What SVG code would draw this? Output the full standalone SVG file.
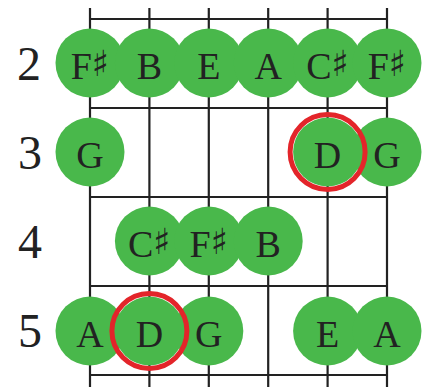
<svg xmlns="http://www.w3.org/2000/svg" width="427" height="387" viewBox="0 0 427 387">
<style>
.grid line{stroke:#222;stroke-width:2.2}
.n{fill:#49b84b}
.hl{fill:none;stroke:#e3252a;stroke-width:5}
.t{font-family:"Liberation Serif","DejaVu Serif",serif;font-size:38px;fill:#222;text-anchor:middle}
.lab{font-family:"Liberation Serif","DejaVu Serif",serif;font-size:48px;fill:#222;text-anchor:middle}
.sh{font-family:"DejaVu Serif",serif;font-size:36px}
</style>
<rect width="427" height="387" fill="#fff"/>
<g id="grid" class="grid">
<line x1="90" y1="8" x2="90" y2="387"/>
<line x1="149.4" y1="8" x2="149.4" y2="387"/>
<line x1="208.8" y1="8" x2="208.8" y2="387"/>
<line x1="268.2" y1="8" x2="268.2" y2="387"/>
<line x1="327.6" y1="8" x2="327.6" y2="387"/>
<line x1="387" y1="8" x2="387" y2="387"/>
<line x1="89" y1="19" x2="388" y2="19"/>
<line x1="89" y1="108" x2="388" y2="108"/>
<line x1="89" y1="197" x2="388" y2="197"/>
<line x1="89" y1="286" x2="388" y2="286"/>
<line x1="89" y1="375" x2="388" y2="375"/>
</g>
<g id="labels">
<text class="lab" x="29" y="80">2</text>
<text class="lab" x="30" y="169">3</text>
<text class="lab" x="30" y="258">4</text>
<text class="lab" x="30" y="347">5</text>
</g>
<g id="row2">
<g id="n2-1"><circle class="n" cx="90" cy="63" r="34.5"/><text class="t" x="90" y="79">F<tspan class="sh" dy="-3">♯</tspan></text></g>
<g id="n2-2"><circle class="n" cx="149.4" cy="63" r="34.5"/><text class="t" x="149.4" y="79">B</text></g>
<g id="n2-3"><circle class="n" cx="208.8" cy="63" r="34.5"/><text class="t" x="208.8" y="79">E</text></g>
<g id="n2-4"><circle class="n" cx="268.2" cy="63" r="34.5"/><text class="t" x="268.2" y="79">A</text></g>
<g id="n2-5"><circle class="n" cx="327.6" cy="63" r="34.5"/><text class="t" x="327.6" y="79">C<tspan class="sh" dy="-3">♯</tspan></text></g>
<g id="n2-6"><circle class="n" cx="387" cy="63" r="34.5"/><text class="t" x="387" y="79">F<tspan class="sh" dy="-3">♯</tspan></text></g>
</g>
<g id="row3">
<g id="n3-1"><circle class="n" cx="90" cy="152" r="34.5"/><text class="t" x="90" y="168">G</text></g>
<g id="n3-6"><circle class="n" cx="387" cy="152" r="34.5"/><text class="t" x="387" y="168">G</text></g>
<g id="n3-5"><circle class="n" cx="327.6" cy="152" r="34.5"/><text class="t" x="327.6" y="168">D</text><circle class="hl" cx="327.6" cy="152" r="37.5"/></g>
</g>
<g id="row4">
<g id="n4-2"><circle class="n" cx="149.4" cy="241" r="34.5"/><text class="t" x="149.4" y="257">C<tspan class="sh" dy="-3">♯</tspan></text></g>
<g id="n4-3"><circle class="n" cx="208.8" cy="241" r="34.5"/><text class="t" x="208.8" y="257">F<tspan class="sh" dy="-3">♯</tspan></text></g>
<g id="n4-4"><circle class="n" cx="268.2" cy="241" r="34.5"/><text class="t" x="268.2" y="257">B</text></g>
</g>
<g id="row5">
<g id="n5-1"><circle class="n" cx="90" cy="331" r="34.5"/><text class="t" x="90" y="347">A</text></g>
<g id="n5-3"><circle class="n" cx="208.8" cy="331" r="34.5"/><text class="t" x="208.8" y="347">G</text></g>
<g id="n5-5"><circle class="n" cx="327.6" cy="331" r="34.5"/><text class="t" x="327.6" y="347">E</text></g>
<g id="n5-6"><circle class="n" cx="387" cy="331" r="34.5"/><text class="t" x="387" y="347">A</text></g>
<g id="n5-2"><circle class="n" cx="149.4" cy="331" r="34.5"/><text class="t" x="149.4" y="347">D</text><circle class="hl" cx="149.4" cy="331" r="37.5"/></g>
</g>
</svg>
